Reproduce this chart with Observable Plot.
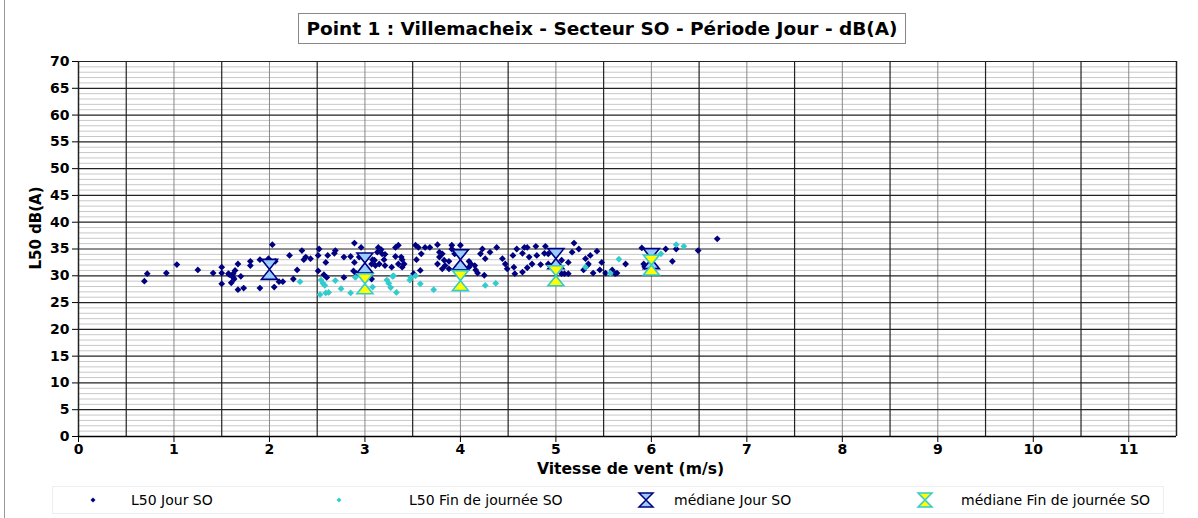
<!DOCTYPE html>
<html>
<head>
<meta charset="utf-8">
<script src="https://cdn.jsdelivr.net/npm/d3@7"></script>
<script src="https://cdn.jsdelivr.net/npm/@observablehq/plot@0.6"></script>
<style>
  html, body { margin: 0; padding: 0; background: #fff; }
  #wrap { position: relative; width: 1198px; height: 518px; font-family: "DejaVu Sans", sans-serif; overflow: hidden; }
  #frame { position: absolute; left: 4px; top: 0; width: 1px; height: 518px; background: #999; }
  #title { position: absolute; left: 298px; top: 13px; width: 606px; height: 29px; border: 1px solid #888; background: #fff;
           font-weight: bold; font-size: 18.5px; line-height: 29px; text-align: center; color: #000; }
  #legend { position: absolute; left: 52px; top: 486px; width: 1110px; height: 26px; border: 1px solid #eee; font-size: 14px; color: #000; }
  .li { position: absolute; top: 0; height: 26px; line-height: 26px; white-space: nowrap; }
</style>
</head>
<body>
<div id="wrap">
  <div id="chart"></div>
  <div id="frame"></div>
  <div id="title">Point 1 : Villemacheix - Secteur SO - Période Jour - dB(A)</div>
  <div id="legend"></div>
</div>
<script>
// ---- data ----
const jourX = [0.69,0.72,0.92,1.03,1.25,1.41,1.50,1.50,1.50,1.57,1.58,1.62,1.64,1.67,1.63,1.60,1.62,1.70,1.67,1.73,
  1.80,1.80,1.90,1.90,1.99,2.03,2.06,2.05,2.10,2.14,2.21,2.34,2.29,2.25,2.36,2.38,2.43,2.51,2.52,2.51,
  2.59,2.61,2.57,2.60,2.69,2.68,2.78,2.78,2.89,2.85,2.89,2.96,2.88,2.91,2.94,3.07,3.08,3.10,3.14,3.17,
  3.13,3.18,3.21,3.20,3.11,3.15,3.21,3.28,3.32,3.35,3.32,3.38,3.39,3.41,3.39,3.35,3.07,3.53,3.56,3.59,
  3.63,3.68,3.54,3.58,3.51,3.76,3.78,3.78,3.81,3.83,3.84,3.88,3.91,3.91,4.00,3.94,3.88,3.81,4.09,4.11,
  4.09,4.15,4.16,4.18,4.25,4.21,4.23,4.26,4.31,4.38,4.44,4.47,4.49,4.57,4.56,4.55,4.59,4.65,4.67,4.70,
  4.65,4.72,4.70,4.75,4.79,4.80,4.84,4.89,4.92,4.88,4.92,5.06,5.09,5.13,5.06,5.13,5.19,5.17,5.24,5.29,
  3.76,5.31,5.36,5.43,5.34,5.33,5.48,5.46,5.39,5.52,5.59,5.62,5.64,5.73,5.90,5.92,5.93,6.15,6.22,6.26,
  6.49,6.69];
const jourY = [29.0,30.4,30.5,32.1,31.1,30.5,31.6,30.5,28.5,30.4,30.2,30.4,31.0,32.2,29.4,28.7,29.7,29.9,27.4,27.7,
  32.7,31.9,33.0,27.7,33.2,35.8,32.7,27.9,28.9,28.9,33.8,34.7,31.1,29.4,33.0,33.5,33.2,33.8,35.0,30.9,
  32.5,33.8,30.2,29.7,34.7,34.2,33.5,29.7,36.1,33.6,32.5,35.3,30.9,30.4,33.5,32.2,33.0,32.9,35.3,34.9,
  34.4,34.1,34.0,33.0,31.9,32.2,31.9,31.6,35.3,35.7,33.6,33.5,33.0,32.2,31.6,32.2,29.4,35.7,35.3,34.1,
  35.3,35.3,33.0,31.0,30.4,35.8,34.4,33.5,34.1,32.9,31.9,32.7,35.7,35.0,35.7,34.1,31.3,31.3,32.7,32.2,
  31.6,31.9,31.1,30.5,30.1,34.1,35.0,33.2,34.4,35.3,33.2,32.2,31.3,30.4,31.6,33.8,35.0,30.7,35.3,35.3,
  34.2,33.5,31.5,32.2,35.5,33.8,32.1,35.5,34.1,34.2,32.2,30.4,30.4,30.4,32.9,32.5,36.1,34.4,35.0,31.1,
  32.2,33.2,33.8,34.6,32.2,31.9,32.5,31.1,30.5,30.5,31.1,30.4,30.5,32.2,35.2,32.2,31.7,35.0,32.7,35.0,
  34.7,36.9];
const finX = [2.32,2.54,2.56,2.58,2.53,2.59,2.62,2.69,2.75,2.85,2.90,3.08,3.23,3.25,3.29,3.27,3.33,3.47,3.48,3.58,
  3.72,3.53,3.30,4.26,4.37,5.31,5.57,5.66,6.10,6.26,6.34];
const finY = [28.9,29.2,28.6,28.2,26.5,26.8,26.9,29.1,27.6,26.8,29.7,27.9,29.2,28.6,29.9,27.8,26.9,29.2,29.7,28.5,
  27.4,30.0,30.0,28.2,28.6,31.6,30.5,33.1,34.1,35.8,35.5];
const medJourX = [2, 3, 4, 5, 6];
const medJourY = [31.2, 32.4, 33.0, 33.2, 33.2];
const medFinX = [3, 4, 5, 6];
const medFinY = [28.5, 29.1, 30.0, 32.0];
const xTicks = [0,1,2,3,4,5,6,7,8,9,10,11];
const yTicks = [0,5,10,15,20,25,30,35,40,45,50,55,60,65,70];
const seriesNames = ["L50 Jour SO", "L50 Fin de journée SO", "médiane Jour SO", "médiane Fin de journée SO"];

const NAVY = "#000080", CYAN = "#33cccc", LBLUE = "#99ccff", YEL = "#ffff00";

const jour = jourX.map((x, i) => ({x, y: jourY[i]}));
const fin = finX.map((x, i) => ({x, y: finY[i]}));
const medJour = medJourX.map((x, i) => ({x, y: medJourY[i]}));
const medFin = medFinX.map((x, i) => ({x, y: medFinY[i]}));

const hourglass = {
  draw(ctx) {
    const w = 8, h = 10;
    ctx.moveTo(-w, -h); ctx.lineTo(w, -h); ctx.lineTo(-w, h); ctx.lineTo(w, h); ctx.closePath();
  }
};
const rhombus = {
  draw(ctx) {
    const d = 3.4;
    ctx.moveTo(0, -d); ctx.lineTo(d, 0); ctx.lineTo(0, d); ctx.lineTo(-d, 0); ctx.closePath();
  }
};

const minorY = d3.range(0, 71, 1).filter(v => v % 5 !== 0);
const halfX = d3.range(0.5, 11.5, 1);

const plot = Plot.plot({
  width: 1198, height: 518,
  marginLeft: 78, marginRight: 22, marginTop: 61, marginBottom: 82,
  style: {fontFamily: "DejaVu Sans, sans-serif", background: "transparent", color: "#000"},
  x: {domain: [0, 11.5]},
  y: {domain: [0, 70]},
  marks: [
    Plot.ruleY(minorY, {stroke: "#c8c8c8", strokeWidth: 1}),
    Plot.ruleX(xTicks.filter(v => v > 0), {stroke: "#888", strokeWidth: 1}),
    Plot.ruleY(yTicks, {stroke: "#222", strokeWidth: 1.2}),
    Plot.ruleX(halfX, {stroke: "#222", strokeWidth: 1.2}),
    Plot.ruleX([0, 11.5], {stroke: "#222", strokeWidth: 1.5}),
    Plot.ruleY([0], {stroke: "#000", strokeWidth: 1.5}),
    Plot.axisY({ticks: yTicks, tickSize: 6, tickPadding: 3, fontSize: 14, fontWeight: "bold", label: null}),
    Plot.axisX({ticks: xTicks, tickSize: 6, tickPadding: 2, fontSize: 14, fontWeight: "bold", label: null}),
    Plot.text(["L50 dB(A)"], {frameAnchor: "left", dx: -42, dy: -21, rotate: -90, fontSize: 15, fontWeight: "bold", textAnchor: "middle"}),
    Plot.text(["Vitesse de vent (m/s)"], {frameAnchor: "bottom", dx: 3, dy: 37, fontSize: 15.6, fontWeight: "bold"}),
    Plot.dot(jour, {x: "x", y: "y", symbol: rhombus, fill: NAVY, stroke: "none"}),
    Plot.dot(fin, {x: "x", y: "y", symbol: rhombus, fill: CYAN, stroke: "none"}),
    Plot.dot(medJour, {x: "x", y: "y", symbol: hourglass, fill: LBLUE, stroke: NAVY, strokeWidth: 1.6}),
    Plot.dot(medFin, {x: "x", y: "y", symbol: hourglass, fill: YEL, stroke: CYAN, strokeWidth: 1.6})
  ]
});
document.getElementById("chart").appendChild(plot);

// ---- legend ----
const legend = document.getElementById("legend");
const items = [
  {sym: "diamond", fill: NAVY, stroke: "none", symX: 40, textX: 78},
  {sym: "diamond", fill: CYAN, stroke: "none", symX: 286, textX: 356},
  {sym: "hg", fill: LBLUE, stroke: NAVY, symX: 593, textX: 621},
  {sym: "hg", fill: YEL, stroke: CYAN, symX: 872, textX: 908}
];
items.forEach((it, i) => {
  const s = document.createElementNS("http://www.w3.org/2000/svg", "svg");
  s.setAttribute("width", 20); s.setAttribute("height", 26);
  s.style.position = "absolute"; s.style.left = (it.symX - 10) + "px"; s.style.top = "0px";
  const p = document.createElementNS("http://www.w3.org/2000/svg", "path");
  if (it.sym === "diamond") p.setAttribute("d", "M10,10.5 L12.5,13 L10,15.5 L7.5,13 Z");
  else p.setAttribute("d", "M3,6 L17,6 L3,20 L17,20 Z");
  p.setAttribute("fill", it.fill); p.setAttribute("stroke", it.stroke); p.setAttribute("stroke-width", 1.5);
  s.appendChild(p);
  legend.appendChild(s);
  const t = document.createElement("div");
  t.className = "li"; t.style.left = it.textX + "px"; t.textContent = seriesNames[i];
  legend.appendChild(t);
});
</script>
</body>
</html>
